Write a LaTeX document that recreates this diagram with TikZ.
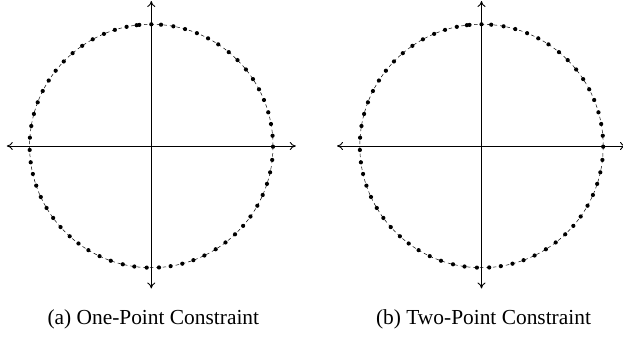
\documentclass[tikz,border=0pt]{standalone}
\usepackage{fontspec}
\setmainfont{Liberation Serif}
\usetikzlibrary{arrows.meta,calc}
\tikzset{
  axisline/.style={line width=0.9pt, {To[length=6pt,width=8pt]}-{To[length=6pt,width=8pt]}},
  guidecircle/.style={line width=0.5pt, dash pattern=on 3.5pt off 3pt},
  sampledot/.style={circle, fill=black, inner sep=0pt, minimum size=4.2pt},
  captiontext/.style={font=\fontsize{21.4}{24}\selectfont, anchor=base, inner sep=0pt}
}
\newcommand{\ptlist}{0/121.7, 9.7/121, 22/119.3, 33.7/116.7, 45.4/112.3, 56.4/107, 67/101.7, 77/93.3, 86/85.7, 94.4/76.3, 101.4/66.7, 107.7/56.7, 112.7/46, 117/33.7, 119.7/22, 121.4/10.3, 122/-0.7, 121.4/-14, 118.7/-26.3, 116/-38, 111.4/-49, 106/-59.7, 99.4/-70.7, 92/-80, 83.7/-88.3, 74.4/-96.7, 64.4/-103.3, 53/-109.3, 42/-114, 31/-117.7, 19.4/-120.7, 7.7/-121.7, -4.6/-121.7, -17/-120.7, -28.6/-118.7, -40.6/-115, -52/-110.7, -63/-104.3, -73/-97.7, -82/-90.7, -91/-81.3, -98.6/-72.3, -105.3/-62.3, -110.6/-51, -115.3/-39.7, -118.6/-28, -120.6/-16.3, -122/-4, -121.3/8.3, -120/20, -117.3/32, -113.6/43.7, -108.6/55, -102.3/65.3, -95.3/75, -87.3/84.3, -78.6/92.7, -69/100, -58.6/106.7, -47.3/112, -36.3/115.7, -24.6/118.7, -14.6/120.8, -12/121}
\begin{document}
\begin{tikzpicture}[x=1pt,y=1pt]
\useasboundingbox (0,0) rectangle (623,337);
\foreach \pn/\cx/\cap in {A/151.3/{(a) One-Point Constraint}, B/481.5/{(b) Two-Point Constraint}}{
  \coordinate (c\pn) at (\cx,191);
  \coordinate (l\pn) at ($(c\pn)+(-144.5,0)$);
  \coordinate (r\pn) at ($(c\pn)+(144.5,0)$);
  \coordinate (t\pn) at ($(c\pn)+(0,145)$);
  \coordinate (b\pn) at ($(c\pn)+(0,-142.5)$);
  \draw[axisline] (l\pn) -- (r\pn);
  \draw[axisline] (b\pn) -- (t\pn);
  \draw[guidecircle] (c\pn) circle[radius=121.7];
  \foreach \dx/\dy [count=\k] in \ptlist {
    \node[sampledot] (d\pn\k) at ($(c\pn)+({atan2(\dy,\dx)}:121.7)$) {};
  }
  \node[captiontext] (cap\pn) at (\cx+2,12.5) {\cap};
}
\end{tikzpicture}
\end{document}
